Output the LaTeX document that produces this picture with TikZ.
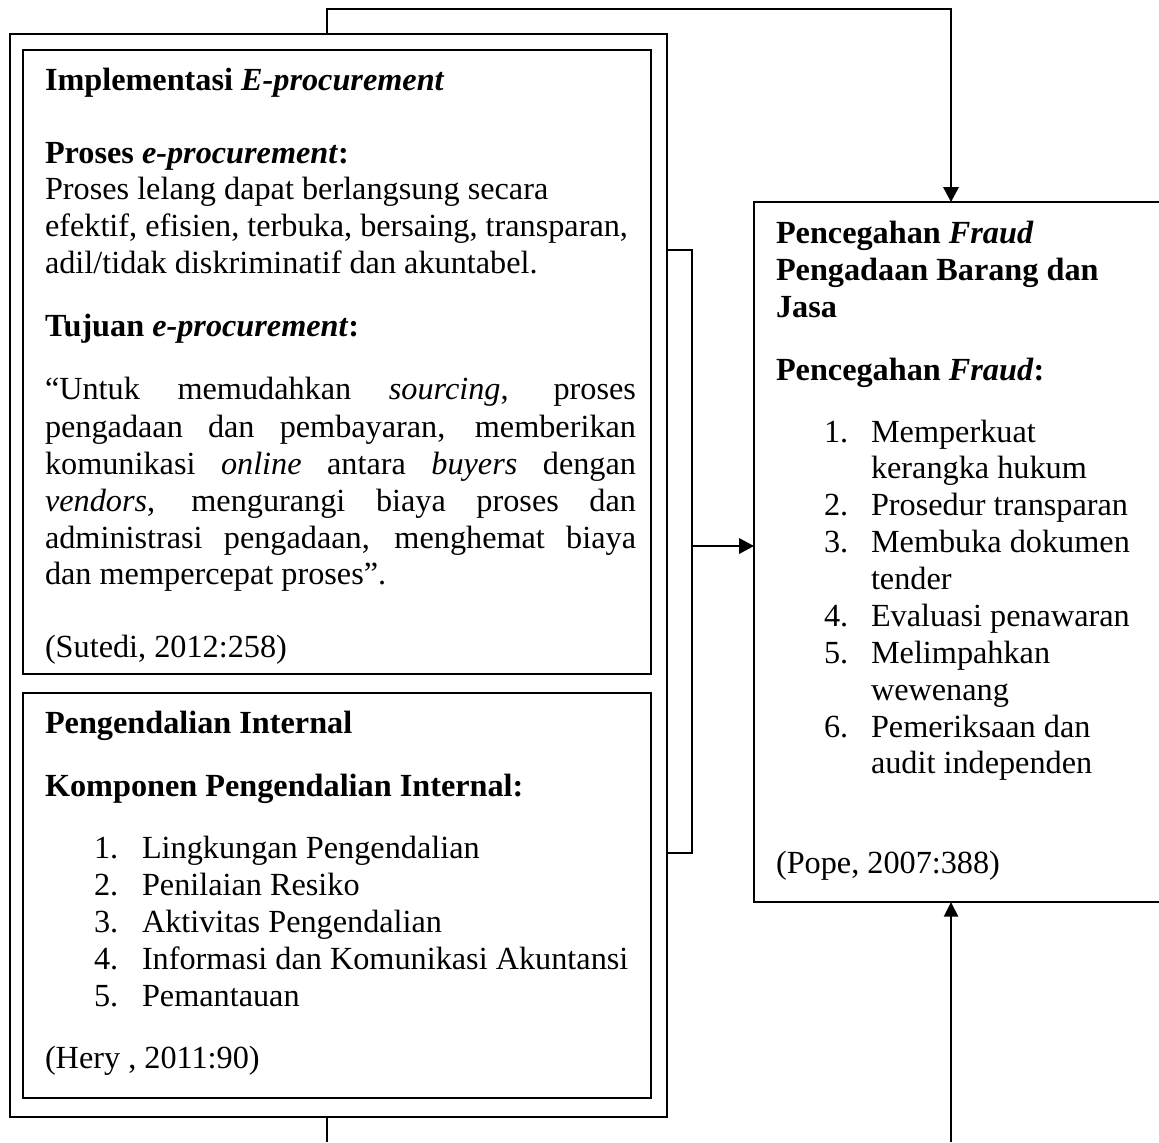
\documentclass[tikz,border=0pt]{standalone}
\usepackage{fontspec}
\setmainfont{Liberation Serif}
\usetikzlibrary{fit,arrows.meta}
\begin{document}
\begin{tikzpicture}[x=0.4pt,y=-0.4pt,
  box/.style={draw, line width=0.95pt, inner sep=0pt, outer sep=0pt, rectangle},
  txt/.style={anchor=base west, inner sep=0pt, outer sep=0pt, font=\fontsize{12.9}{14.8}\selectfont},
  conn/.style={line width=0.8pt},
  arr/.style={conn, -{Triangle[width=6.2pt,length=6pt]}},
  arrs/.style={conn, -{Triangle[width=5.6pt,length=5.8pt]}}]
\useasboundingbox (0,0) rectangle (1159,1142);

% boxes
\node[box, fit={(10,34) (667,1117)}] (outer) {};
\node[box, fit={(23,50) (651,674)}] (eproc) {};
\node[box, fit={(23,693) (651,1098)}] (pi) {};
\node[box, fit={(754,202) (1162,902)}] (fraud) {};

% coordinates for connectors
\coordinate (t1) at (327,9);
\coordinate (t2) at (951,9);
\coordinate (b1) at (327,1142);
\coordinate (b2) at (951,1142);
\coordinate (k1) at (692,250);
\coordinate (k2) at (692,853);
\coordinate (k3) at (692,546);

% connectors
\draw[arr] (outer.north -| t1) -- (t1) -- (t2) -- (fraud.north -| t2);
\draw[conn] (outer.south -| b1) -- (b1);
\draw[arrs] (b2) -- (fraud.south -| b2);
\draw[conn] (outer.east |- k1) -- (k1) -- (k2) -- (outer.east |- k2);
\draw[arr] (k3) -- (fraud.west |- k3);

% box 1 text
\node[txt] (a1) at (45,90) {\textbf{Implementasi \textit{E-procurement}}};
\node[txt] (a2) at (45,163) {\textbf{Proses \textit{e-procurement}:}};
\node[txt] (a3) at (45,199) {Proses lelang dapat berlangsung secara};
\node[txt] (a4) at (45,236) {efektif, efisien, terbuka, bersaing, transparan,};
\node[txt] (a5) at (45,273) {adil/tidak diskriminatif dan akuntabel.};
\node[txt] (a6) at (45,336) {\textbf{Tujuan \textit{e-procurement}:}};
\node[txt] (q1) at (45,399) {\makebox[236.4pt][s]{“Untuk memudahkan \textit{sourcing}, proses}};
\node[txt] (q2) at (45,437) {\makebox[236.4pt][s]{pengadaan dan pembayaran, memberikan}};
\node[txt] (q3) at (45,474) {\makebox[236.4pt][s]{komunikasi \textit{online} antara \textit{buyers} dengan}};
\node[txt] (q4) at (45,511) {\makebox[236.4pt][s]{\textit{vendors}, mengurangi biaya proses dan}};
\node[txt] (q5) at (45,548) {\makebox[236.4pt][s]{administrasi pengadaan, menghemat biaya}};
\node[txt] (q6) at (45,584) {dan mempercepat proses”.};
\node[txt] (a7) at (45,657) {(Sutedi, 2012:258)};

% box 2 text
\node[txt] (p1) at (45,733) {\textbf{Pengendalian Internal}};
\node[txt] (p2) at (45,796) {\textbf{Komponen Pengendalian Internal:}};
\node[txt] (pn1) at (94,858) {1.};
\node[txt] (pt1) at (142,858) {Lingkungan Pengendalian};
\node[txt] (pn2) at (94,895) {2.};
\node[txt] (pt2) at (142,895) {Penilaian Resiko};
\node[txt] (pn3) at (94,932) {3.};
\node[txt] (pt3) at (142,932) {Aktivitas Pengendalian};
\node[txt] (pn4) at (94,969) {4.};
\node[txt] (pt4) at (142,969) {Informasi dan Komunikasi Akuntansi};
\node[txt] (pn5) at (94,1006) {5.};
\node[txt] (pt5) at (142,1006) {Pemantauan};
\node[txt] (p3) at (45,1068) {(Hery , 2011:90)};

% right box text
\node[txt] (f1) at (776,243) {\textbf{Pencegahan \textit{Fraud}}};
\node[txt] (f2) at (776,280) {\textbf{Pengadaan Barang dan}};
\node[txt] (f3) at (776,317) {\textbf{Jasa}};
\node[txt] (f4) at (776,380) {\textbf{Pencegahan \textit{Fraud}:}};
\node[txt] (fn1) at (824,442) {1.};
\node[txt] (ft1) at (871,442) {Memperkuat};
\node[txt] (ft1b) at (871,478) {kerangka hukum};
\node[txt] (fn2) at (824,515) {2.};
\node[txt] (ft2) at (871,515) {Prosedur transparan};
\node[txt] (fn3) at (824,552) {3.};
\node[txt] (ft3) at (871,552) {Membuka dokumen};
\node[txt] (ft3b) at (871,589) {tender};
\node[txt] (fn4) at (824,626) {4.};
\node[txt] (ft4) at (871,626) {Evaluasi penawaran};
\node[txt] (fn5) at (824,663) {5.};
\node[txt] (ft5) at (871,663) {Melimpahkan};
\node[txt] (ft5b) at (871,700) {wewenang};
\node[txt] (fn6) at (824,737) {6.};
\node[txt] (ft6) at (871,737) {Pemeriksaan dan};
\node[txt] (ft6b) at (871,773) {audit independen};
\node[txt] (f5) at (776,873) {(Pope, 2007:388)};
\end{tikzpicture}
\end{document}
